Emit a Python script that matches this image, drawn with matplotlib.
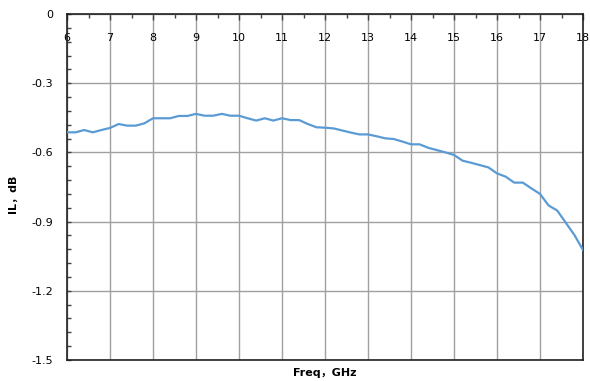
from matplotlib import pyplot as plt
from matplotlib.ticker import MultipleLocator
import numpy as np

# 插损数据, 6~18GHz, 步进0.2GHz
freq = np.round(np.arange(6.0, 18.01, 0.2), 1)
il = [-0.513, -0.513, -0.503, -0.513, -0.503, -0.494, -0.477, -0.484, -0.484, -0.474,
      -0.452, -0.452, -0.452, -0.442, -0.442, -0.433, -0.441, -0.441, -0.433, -0.441,
      -0.441, -0.452, -0.462, -0.452, -0.462, -0.452, -0.460, -0.460, -0.477, -0.491,
      -0.493, -0.496, -0.505, -0.514, -0.522, -0.522, -0.530, -0.539, -0.542, -0.553,
      -0.565, -0.565, -0.580, -0.590, -0.600, -0.611, -0.636, -0.645, -0.655, -0.665,
      -0.691, -0.705, -0.731, -0.731, -0.756, -0.780, -0.830, -0.852, -0.905, -0.958,
      -1.023]
xticks = list(range(6, 19))
yticks = [0, -0.3, -0.6, -0.9, -1.2, -1.5]
ytick_labels = ['0', '-0.3', '-0.6', '-0.9', '-1.2', '-1.5']

plt.rcParams['font.family'] = ['DejaVu Sans', 'Noto Sans CJK SC']
plt.rcParams['axes.unicode_minus'] = False

fig = plt.figure(figsize=(5.9, 3.81), dpi=100)
ax = fig.add_axes([67/590, 21/381, 516/590, 346/381])

ax.plot(freq, il, color='#5B9BD5', lw=1.6, zorder=3)

ax.set_xlim(6, 18)
ax.set_ylim(-1.5, 0)

# 横轴刻度放在顶部(0dB处), 标签画在框内
ax.set_xticks(xticks)
ax.xaxis.set_minor_locator(MultipleLocator(0.5))
ax.tick_params(axis='x', which='both', top=True, bottom=False, labeltop=True,
               labelbottom=False, direction='in', color='#404040')
ax.tick_params(axis='x', which='major', length=4, width=1, pad=-21, labelsize=8)
ax.tick_params(axis='x', which='minor', length=3, width=1)

ax.set_yticks(yticks)
ax.set_yticklabels(ytick_labels)
ax.yaxis.set_minor_locator(MultipleLocator(0.06))
ax.tick_params(axis='y', which='both', direction='in', color='#404040', labelsize=8)
ax.tick_params(axis='y', which='major', length=3, width=1, pad=10)
ax.tick_params(axis='y', which='minor', length=3, width=1)

ax.grid(True, which='major', color='#a0a0a0', lw=1)
ax.set_axisbelow(True)
for s in ax.spines.values():
    s.set_color('#202020')
    s.set_linewidth(1.2)

ax.set_xlabel('Freq，GHz', fontsize=8, fontweight='bold', labelpad=6)
ax.xaxis.set_label_position('bottom')
ax.set_ylabel('IL，dB', fontsize=8, fontweight='bold')
ax.yaxis.set_label_coords(-0.095, 0.48)

fig.savefig('out.png', dpi=100)
